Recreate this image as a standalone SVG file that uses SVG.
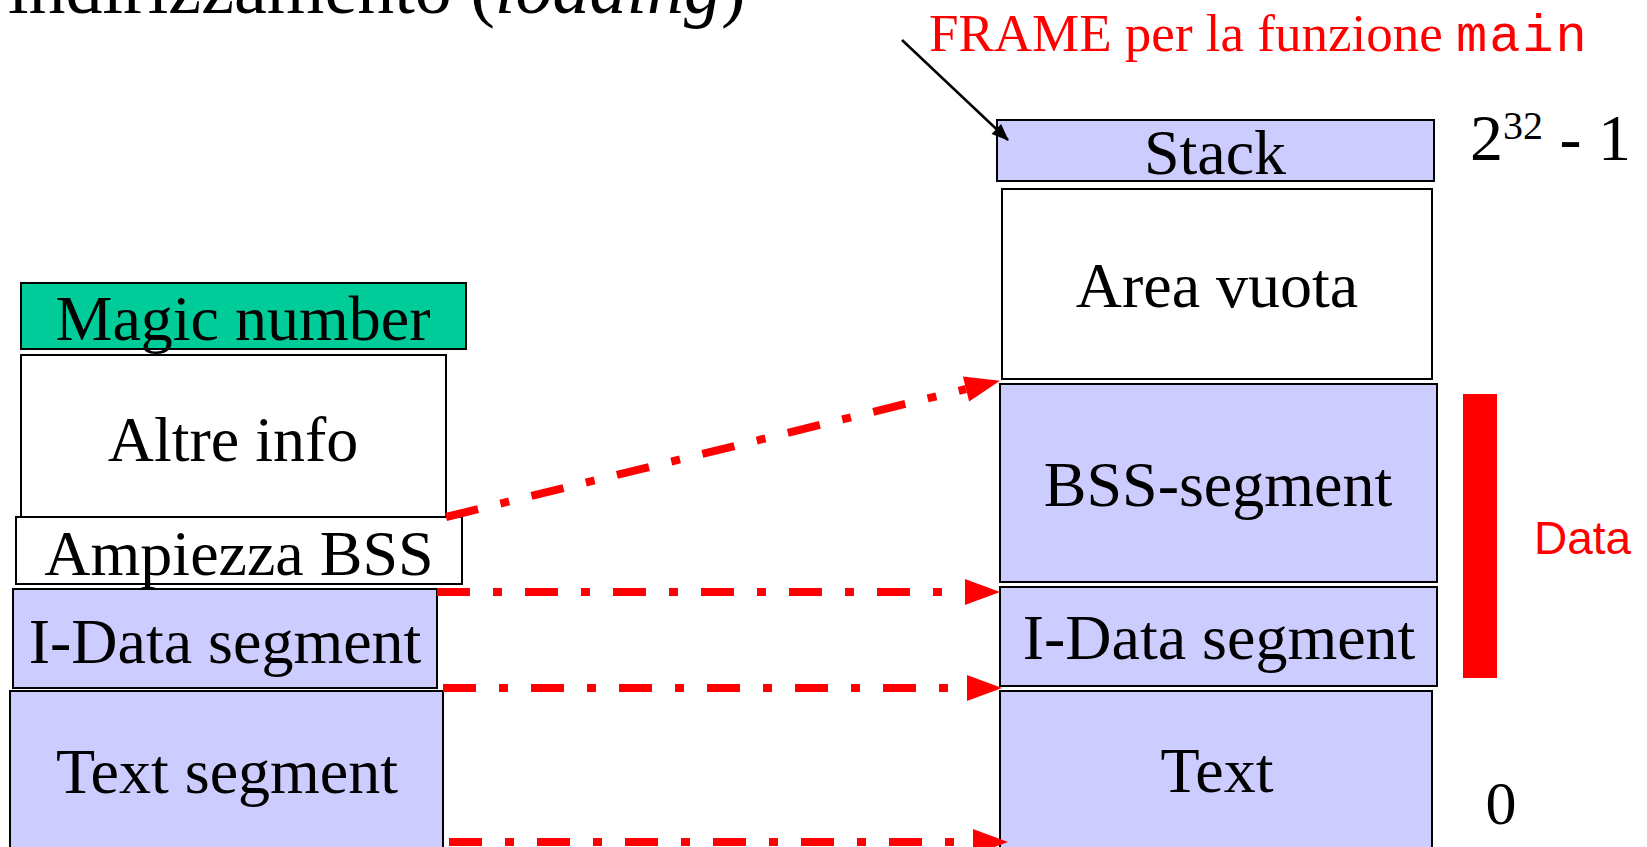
<svg xmlns="http://www.w3.org/2000/svg" width="1647" height="847" viewBox="0 0 1647 847">
<style>
.box{stroke:#000;stroke-width:2}
.lav{fill:#CCCCFF}
.wht{fill:#FFFFFF}
.tl{font-family:"Liberation Serif","Times New Roman",serif;font-size:64px;fill:#000;text-anchor:middle}
.red{stroke:#FF0000;stroke-width:8;fill:none;stroke-dasharray:33 23 9 23}
</style>
<defs>
<marker id="ra" markerUnits="userSpaceOnUse" markerWidth="36" markerHeight="28" refX="0" refY="13" orient="auto" overflow="visible">
<path d="M0,0 L35,13 L0,26 z" fill="#FF0000"/>
</marker>
<marker id="ba" markerUnits="userSpaceOnUse" markerWidth="18" markerHeight="14" refX="16" refY="7" orient="auto" overflow="visible">
<path d="M0,0 L17,7 L0,14 z" fill="#000"/>
</marker>
</defs>
<rect width="1647" height="847" fill="#FFFFFF"/>
<text x="8" y="13" font-family="Liberation Serif, serif" font-size="74" fill="#000">indirizzamento (<tspan font-style="italic">loading</tspan>)</text>
<text x="929" y="51" font-family="Liberation Serif, serif" font-size="53" fill="#FF0000">FRAME per la funzione <tspan font-family="Liberation Mono, monospace" font-size="52" letter-spacing="2">main</tspan></text>
<text x="1470" y="160" font-family="Liberation Serif, serif" font-size="66" fill="#000">2<tspan font-size="40" dy="-21">32</tspan><tspan dy="21"> - 1</tspan></text>
<text x="1501" y="824" font-family="Liberation Serif, serif" font-size="62" fill="#000" text-anchor="middle">0</text>
<rect x="1463" y="394" width="34" height="284" fill="#FF0000"/>
<text x="1534" y="554" font-family="Liberation Sans, Arial, sans-serif" font-size="46" fill="#FF0000">Data</text>
<g id="magic"><rect class="box" x="21" y="283" width="445" height="66" fill="#00CC99"/><text class="tl" x="243" y="340">Magic number</text></g>
<g id="altre"><rect class="box wht" x="21" y="355" width="425" height="164"/><text class="tl" x="233" y="461">Altre info</text></g>
<g id="ampiezza"><rect class="box wht" x="16" y="517" width="446" height="67"/><text class="tl" x="239" y="575">Ampiezza BSS</text></g>
<g id="idata-l"><rect class="box lav" x="13" y="589" width="424" height="99"/><text class="tl" x="225" y="663">I-Data segment</text></g>
<g id="text-l"><rect class="box lav" x="10" y="691" width="433" height="170"/><text class="tl" x="227" y="793">Text segment</text></g>
<g id="stack"><rect class="box lav" x="997" y="120" width="437" height="61"/><text class="tl" x="1215" y="174">Stack</text></g>
<g id="vuota"><rect class="box wht" x="1002" y="189" width="430" height="190"/><text class="tl" x="1217" y="307">Area vuota</text></g>
<g id="bss"><rect class="box lav" x="1000" y="384" width="437" height="198"/><text class="tl" x="1218" y="506">BSS-segment</text></g>
<g id="idata-r"><rect class="box lav" x="1000" y="587" width="437" height="99"/><text class="tl" x="1219" y="659">I-Data segment</text></g>
<g id="text-r"><rect class="box lav" x="1000" y="691" width="432" height="170"/><text class="tl" x="1217" y="792">Text</text></g>
<g id="connectors">
<line x1="902" y1="40" x2="1008" y2="140" stroke="#000" stroke-width="2.5" marker-end="url(#ba)"/>
<line class="red" x1="446" y1="517" x2="966" y2="389" marker-end="url(#ra)"/>
<line class="red" x1="437" y1="592" x2="965" y2="592" marker-end="url(#ra)"/>
<line class="red" x1="443" y1="688" x2="967" y2="688" marker-end="url(#ra)"/>
<line class="red" x1="449" y1="842" x2="973" y2="842" marker-end="url(#ra)"/>
</g>
</svg>
